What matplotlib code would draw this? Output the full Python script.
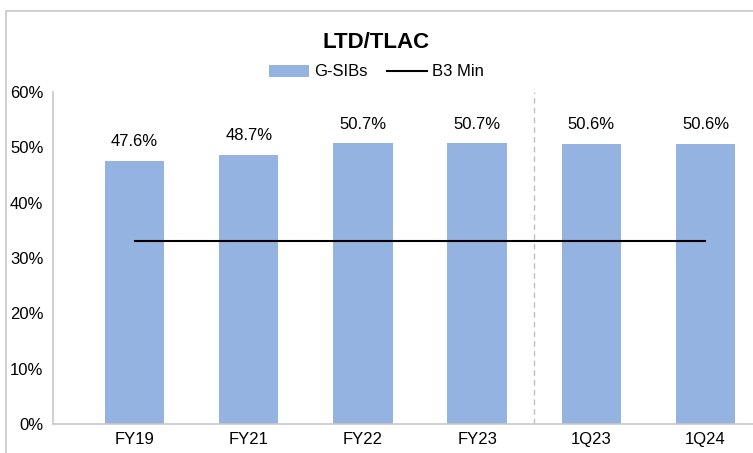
import numpy as np
import matplotlib.pyplot as plt
from matplotlib.patches import Rectangle

plt.rcParams['font.family'] = ['Liberation Sans', 'DejaVu Sans']

categories = ['FY19', 'FY21', 'FY22', 'FY23', '1Q23', '1Q24']
gsibs = [47.6, 48.7, 50.7, 50.7, 50.6, 50.6]
b3_min = [33.0, 33.0, 33.0, 33.0, 33.0, 33.0]

fig = plt.figure(figsize=(7.53, 4.53), dpi=100)
# outer chart border (clipped at right/bottom like the reference)
fig.patches.append(Rectangle((6 / 753, -0.1), 1.2, (442 - 0) / 453 + 0.1,
                             transform=fig.transFigure, fill=False,
                             edgecolor='#c8c8c8', linewidth=1.2))

ax = fig.add_axes([53 / 753, 29 / 453, 700 / 753, 332 / 453])
x = np.arange(len(categories))
bars = ax.bar(x, gsibs, width=0.52, color='#95b3e0', label='G-SIBs', zorder=2)
line, = ax.plot(x, b3_min, color='black', linewidth=1.5, label='B3 Min', zorder=3)
ax.axvline(3.5, color='#bfbfbf', linestyle=(0, (4, 3)), linewidth=1, zorder=1)

for xi, v in zip(x, gsibs):
    ax.text(xi, v + 2.1, f'{v:.1f}%', ha='center', va='bottom', fontsize=12)

ax.set_xlim(-0.714, 5.416)
ax.set_ylim(0, 60)
ax.set_yticks(np.arange(0, 61, 10))
ax.set_yticklabels([f'{t}%' for t in range(0, 61, 10)], fontsize=12)
ax.set_xticks(x)
ax.set_xticklabels(categories, fontsize=12)
ax.tick_params(axis='y', length=0, pad=7)
ax.tick_params(axis='x', length=0, pad=6)
for s in ['top', 'right']:
    ax.spines[s].set_visible(False)
for s in ['left', 'bottom']:
    ax.spines[s].set_color('#c8c8c8')
    ax.spines[s].set_linewidth(1.2)

fig.text(0.5, 411 / 453, 'LTD/TLAC', ha='center', va='center',
         fontsize=16, fontweight='bold')
fig.legend([bars, line], ['G-SIBs', 'B3 Min'], loc='center',
           bbox_to_anchor=(0.5, 381 / 453), ncol=2,
           frameon=False, fontsize=12, handlelength=2.4, columnspacing=1.2,
           handletextpad=0.3)

fig.savefig('out.png', dpi=100)
